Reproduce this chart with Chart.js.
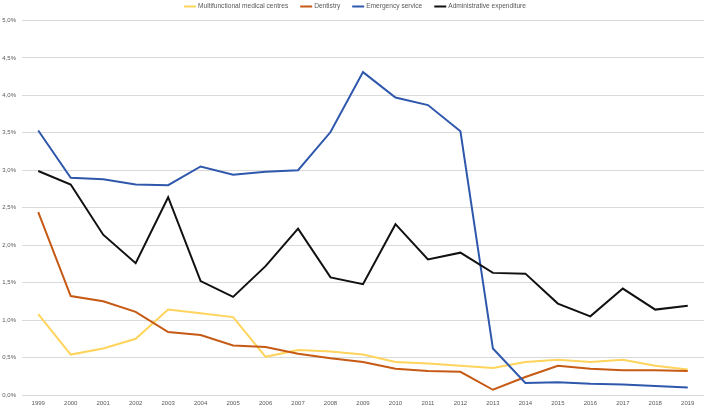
<!DOCTYPE html>
<html>
<head>
<meta charset="utf-8">
<script src="https://cdn.jsdelivr.net/npm/chart.js@4.4.0/dist/chart.umd.min.js"></script>
<style>
  html, body { margin: 0; padding: 0; background: #ffffff; }
  #wrap { width: 708px; height: 410px; }
</style>
</head>
<body>
<div id="wrap"><canvas id="c" width="708" height="410"></canvas></div>
<script>
const years = ['1999','2000','2001','2002','2003','2004','2005','2006','2007','2008','2009','2010','2011','2012','2013','2014','2015','2016','2017','2018','2019'];
const multifunctional = [1.08,0.54,0.62,0.75,1.14,1.09,1.04,0.51,0.60,0.58,0.54,0.44,0.42,0.39,0.36,0.44,0.47,0.44,0.47,0.39,0.34];
const dentistry = [2.44,1.32,1.25,1.11,0.84,0.80,0.66,0.64,0.55,0.49,0.44,0.35,0.32,0.31,0.07,0.24,0.39,0.35,0.33,0.33,0.32];
const emergency = [3.53,2.90,2.88,2.81,2.80,3.05,2.94,2.98,3.00,3.51,4.31,3.97,3.87,3.52,0.62,0.16,0.17,0.15,0.14,0.12,0.10];
const administrative = [2.99,2.81,2.14,1.76,2.64,1.52,1.31,1.72,2.22,1.57,1.48,2.28,1.81,1.90,1.63,1.62,1.22,1.05,1.42,1.14,1.19];
const seriesNames = ['Multifunctional medical centres','Dentistry','Emergency service','Administrative expenditure'];
const yTickStep = 0.5;
const yMax = 5;

const colors = ['#FFD45C','#C65A14','#2F58AC','#111111'];
const FONT = 'Liberation Sans, Arial, sans-serif';
const TEXT = '#595959';

const legendPlugin = {
  id: 'customLegend',
  afterDraw(chart) {
    const ctx = chart.ctx;
    ctx.save();
    ctx.font = '6.6px ' + FONT;
    ctx.textBaseline = 'middle';
    const lineW = 12, gapText = 2, gapItem = 12;
    const items = chart.data.datasets.map(d => ({label: d.label, color: d.borderColor, w: ctx.measureText(d.label).width}));
    let total = 0;
    items.forEach((it, i) => { total += lineW + gapText + it.w + (i < items.length - 1 ? gapItem : 0); });
    let x = 355 - total / 2;
    const y = 6.5;
    items.forEach(it => {
      ctx.strokeStyle = it.color;
      ctx.lineWidth = 2;
      ctx.beginPath();
      ctx.moveTo(x, y);
      ctx.lineTo(x + lineW, y);
      ctx.stroke();
      ctx.fillStyle = TEXT;
      ctx.fillText(it.label, x + lineW + gapText, y);
      x += lineW + gapText + it.w + gapItem;
    });
    ctx.restore();
  }
};

const seriesData = [multifunctional, dentistry, emergency, administrative];
const orders = [3, 2, 1, 0];

new Chart(document.getElementById('c'), {
  type: 'line',
  data: {
    labels: years,
    datasets: seriesData.map((d, i) => ({
      label: seriesNames[i],
      data: d,
      borderColor: colors[i],
      backgroundColor: colors[i],
      borderWidth: 2,
      pointRadius: 0,
      tension: 0,
      fill: false,
      order: orders[i]
    }))
  },
  options: {
    responsive: false,
    animation: false,
    devicePixelRatio: 1,
    layout: { padding: { top: 20.4, right: 4, bottom: 0, left: 0 } },
    plugins: {
      legend: { display: false },
      tooltip: { enabled: false }
    },
    scales: {
      x: {
        offset: true,
        grid: { display: false, drawTicks: false },
        border: { display: false },
        ticks: { color: TEXT, font: { family: FONT, size: 6 }, padding: 5, maxRotation: 0, autoSkip: false },
        afterFit(scale) { scale.height = 15; }
      },
      y: {
        min: 0,
        max: yMax,
        grid: { color: '#DADADA', lineWidth: 1, drawTicks: false },
        border: { display: false },
        ticks: {
          stepSize: yTickStep,
          color: TEXT,
          font: { family: FONT, size: 6 },
          padding: 6,
          callback: v => v.toFixed(1).replace('.', ',') + '%'
        },
        afterFit(scale) { scale.width = 22; }
      }
    }
  },
  plugins: [legendPlugin]
});
</script>
</body>
</html>
